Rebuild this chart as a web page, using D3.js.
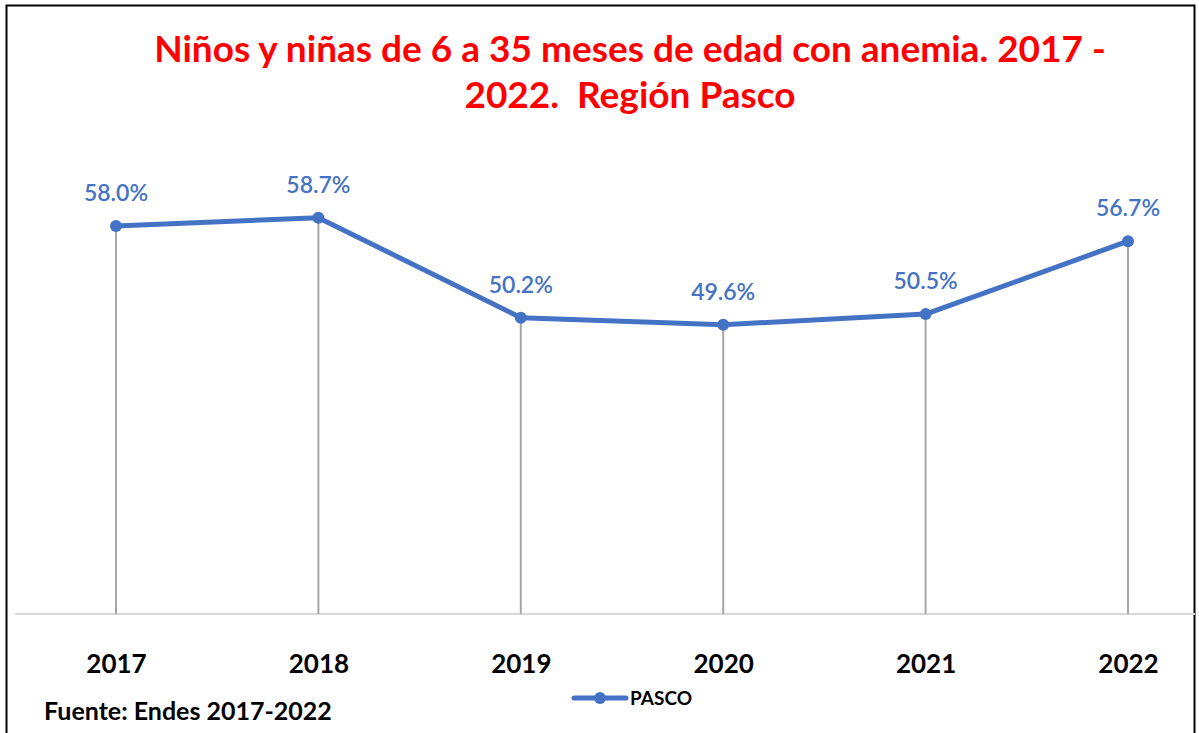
<!DOCTYPE html>
<html>
<head>
    <meta charset="utf-8">
    <title>Anemia Pasco</title>
    <script src="https://cdn.jsdelivr.net/npm/d3@7"></script>
    <style>
        * {
            padding: 0;
            margin: 0;
        }
        body {
            background: #fff;
            overflow: hidden;
        }
        text {
            font-family: Lato, "Open Sans", sans-serif;
            white-space: pre;
        }
    </style>
</head>
<body>
    <div id="chart"></div>
</body>
<script>
    // data
    const years = ['2017', '2018', '2019', '2020', '2021', '2022']
    const pasco = [58.0, 58.7, 50.2, 49.6, 50.5, 56.7]
    const titleLines = ['Niños y niñas de 6 a 35 meses de edad con anemia. 2017 -', '2022.  Región Pasco']
    const seriesName = 'PASCO'
    const source = 'Fuente: Endes 2017-2022'

    const width = 1199
    const height = 733
    const blue = '#4472C4'

    const svg = d3.select('#chart').append('svg')
        .attr('width', width)
        .attr('height', height)

    // outer frame
    svg.append('rect')
        .attr('x', 6.5).attr('y', 5.5)
        .attr('width', 1188).attr('height', 740)
        .attr('fill', 'none')
        .attr('stroke', '#000')
        .attr('stroke-width', 2)

    // title
    svg.append('g').selectAll('text')
        .data(titleLines)
        .join('text')
        .attr('x', 630)
        .attr('y', (d, i) => 62 + i * 46)
        .attr('text-anchor', 'middle')
        .attr('fill', '#ff0000')
        .attr('font-weight', 'bold')
        .attr('font-size', 37)
        .text(d => d)

    const x = d3.scalePoint()
        .domain(years)
        .range([116, 1128])

    const y = d3.scaleLinear()
        .domain([25, 65])
        .range([614, 143.6])

    // baseline / x axis
    const xAxis = svg.append('g')
        .attr('transform', `translate(0,${y(25)})`)
        .call(d3.axisBottom(x).tickSize(0).tickPadding(41))
    xAxis.select('.domain').remove()
    xAxis.append('line')
        .attr('x1', 15).attr('x2', 1195)
        .attr('stroke', '#d9d9d9')
        .attr('stroke-width', 2)
    xAxis.selectAll('.tick text')
        .attr('font-family', 'Lato, sans-serif')
        .attr('font-size', 26)
        .attr('font-weight', 'bold')
        .attr('fill', '#000')

    const pts = years.map((yr, i) => ({ year: yr, v: pasco[i] }))

    // drop lines
    svg.append('g').selectAll('line')
        .data(pts)
        .join('line')
        .attr('x1', d => x(d.year)).attr('x2', d => x(d.year))
        .attr('y1', d => y(d.v)).attr('y2', y(25))
        .attr('stroke', '#a6a6a6')
        .attr('stroke-width', 2)

    const line = d3.line()
        .x(d => x(d.year))
        .y(d => y(d.v))

    svg.append('path')
        .datum(pts)
        .attr('d', line)
        .attr('fill', 'none')
        .attr('stroke', blue)
        .attr('stroke-width', 5)
        .attr('stroke-linejoin', 'round')

    svg.append('g').selectAll('circle')
        .data(pts)
        .join('circle')
        .attr('cx', d => x(d.year))
        .attr('cy', d => y(d.v))
        .attr('r', 6)
        .attr('fill', blue)

    // data labels
    svg.append('g').selectAll('text')
        .data(pts)
        .join('text')
        .attr('x', d => x(d.year))
        .attr('y', d => y(d.v) - 25)
        .attr('text-anchor', 'middle')
        .attr('fill', blue)
        .attr('font-size', 23)
        .attr('font-weight', 600)
        .text(d => d.v.toFixed(1) + '%')

    // legend
    const lg = svg.append('g').attr('transform', 'translate(574,698)')
    lg.append('line')
        .attr('x1', 0).attr('x2', 52)
        .attr('stroke', blue).attr('stroke-width', 5)
        .attr('stroke-linecap', 'round')
    lg.append('circle').attr('cx', 26).attr('r', 6).attr('fill', blue)
    lg.append('text')
        .attr('x', 56).attr('y', 7)
        .attr('font-size', 19)
        .attr('font-weight', 'bold')
        .attr('fill', '#000')
        .text(seriesName)

    // source note
    svg.append('text')
        .attr('x', 44).attr('y', 720)
        .attr('font-size', 25)
        .attr('font-weight', 'bold')
        .attr('fill', '#000')
        .text(source)
</script>
</html>
